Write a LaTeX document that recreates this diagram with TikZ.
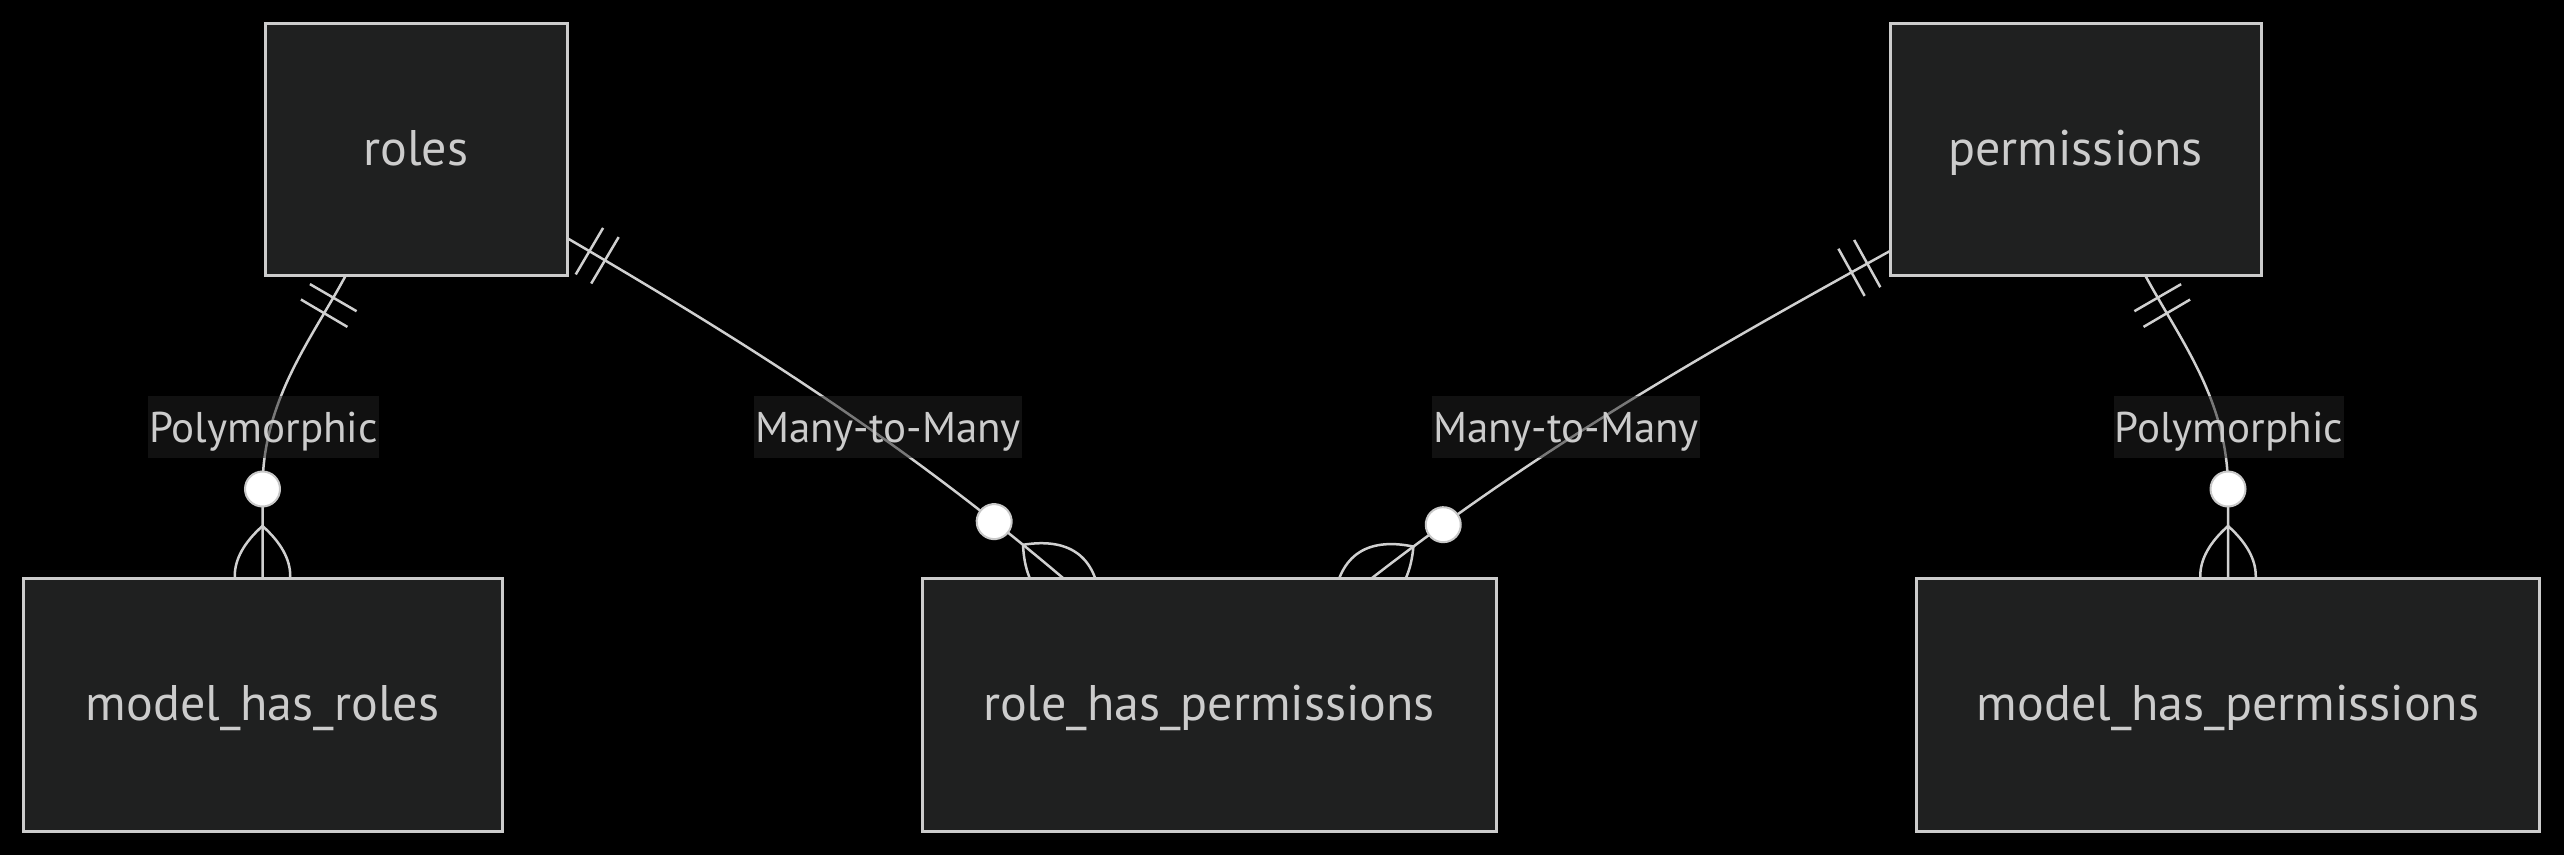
\documentclass[tikz,border=0pt]{standalone}
\usepackage{fontspec}
\setmainfont{PT Sans}
\usetikzlibrary{calc,decorations.markings}
\pgfdeclarelayer{bg}
\pgfdeclarelayer{background}
\pgfsetlayers{bg,background,main}
\definecolor{boxfill}{HTML}{1F2020}
\definecolor{boxline}{HTML}{CCCCCC}
\definecolor{txt}{HTML}{CCCCCC}
\definecolor{edgecol}{HTML}{D0D0D0}
\definecolor{circcol}{HTML}{C8C8C8}
\definecolor{lblfill}{HTML}{222222}
\tikzset{
  entity/.style={draw=boxline, fill=boxfill, line width=3pt, text=txt,
    font=\fontsize{50}{60}\selectfont, outer sep=0pt, inner sep=0pt,
    text height=32pt, text depth=0pt},
  rel/.style={draw=edgecol, line width=2.5pt},
  mk/.style={draw=edgecol, line width=2.5pt},
  lbl/.style={fill=lblfill, fill opacity=0.5, text opacity=1, text=txt,
    font=\fontsize{43}{52}\selectfont, inner xsep=1pt, inner ysep=0pt,
    text height=30pt, text depth=0pt, minimum height=62pt},
  onezeromany/.style={postaction={decorate}, decoration={markings,
    mark=at position 26pt with {\draw[mk] (0pt,-27pt) -- (0pt,27pt);},
    mark=at position 44pt with {\draw[mk] (0pt,-27pt) -- (0pt,27pt);},
    mark=at position -89pt with {\draw[draw=circcol, fill=white, line width=2pt] (0pt,0pt) circle (17.5pt);},
    mark=at position -52pt with {\draw[mk] (0pt,0pt) .. controls (33pt,37pt) and (67pt,37pt) .. (100pt,0pt)
        (0pt,0pt) .. controls (33pt,-37pt) and (67pt,-37pt) .. (100pt,0pt);}
  }}
}
\begin{document}
\begin{tikzpicture}[x=1pt,y=-1pt]
\useasboundingbox (0,0) rectangle (2564,855);
\begin{pgfonlayer}{bg}
\fill[black] (0,0) rectangle (2564,855);
\end{pgfonlayer}

\node[entity, minimum width=302pt, minimum height=252pt] (roles) at (416,149) {roles};
\node[entity, minimum width=371pt, minimum height=252pt] (perm) at (2075.5,149) {permissions};
\node[entity, minimum width=479pt, minimum height=253pt] (mhr) at (262.5,704.5) {model\_has\_roles};
\node[entity, minimum width=574pt, minimum height=253pt] (rhp) at (1209,704.5) {role\_has\_permissions};
\node[entity, minimum width=623pt, minimum height=253pt] (mhp) at (2228,704.5) {model\_has\_permissions};

\begin{pgfonlayer}{background}
\draw[rel, onezeromany] ($(roles.south west)+(81,0)$) .. controls +(-35,65) and +(0,-89) .. ($(mhr.north)+(0,-89)$) -- (mhr.north);
\draw[rel, onezeromany] ($(roles.south east)+(0,-37)$) .. controls +(183,107) and +(-163,-138) .. ($(rhp.north west)+(141,0)$);
\draw[rel, onezeromany] ($(perm.south west)+(0,-24)$) .. controls +(-170,94) and +(178,-138) .. ($(rhp.north east)+(-124,0)$);
\draw[rel, onezeromany] ($(perm.south west)+(255,0)$) .. controls +(35,65) and +(0,-89) .. ($(mhp.north)+(0,-89)$) -- (mhp.north);
\end{pgfonlayer}

\node[lbl] (l1) at (263.5,427) {Polymorphic};
\node[lbl] (l2) at (888,427) {Many-to-Many};
\node[lbl] (l3) at (1566,427) {Many-to-Many};
\node[lbl] (l4) at (2229,427) {Polymorphic};
\end{tikzpicture}
\end{document}
